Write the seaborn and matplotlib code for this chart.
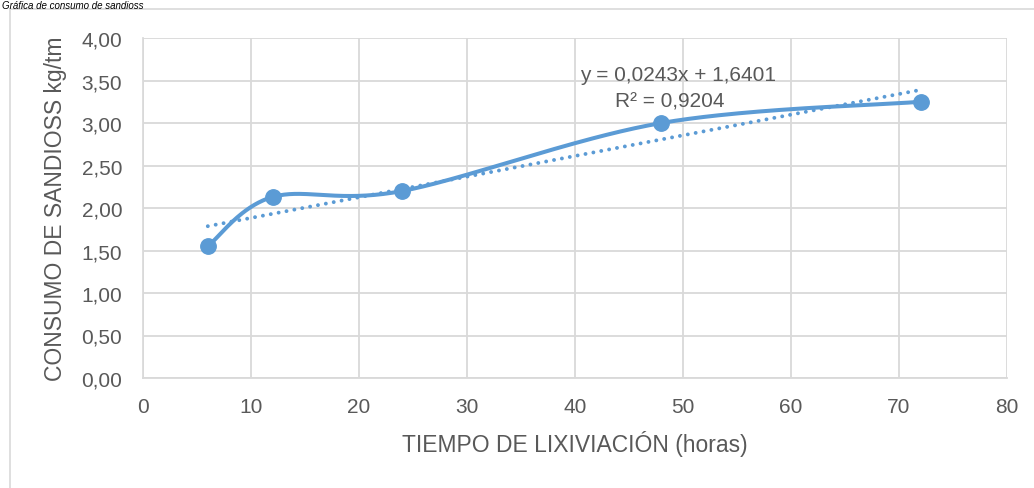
import numpy as np
import pandas as pd
import matplotlib
matplotlib.use("Agg")
import matplotlib.pyplot as plt
import seaborn as sns

# Data
horas = [6, 12, 24, 48, 72]
consumo = [1.55, 2.13, 2.20, 3.00, 3.25]
slope, intercept = 0.0243, 1.6401
eq_text = "y = 0,0243x + 1,6401"
r2_text = "R² = 0,9204"
x_ticks = [0, 10, 20, 30, 40, 50, 60, 70, 80]
y_ticks = [0.0, 0.5, 1.0, 1.5, 2.0, 2.5, 3.0, 3.5, 4.0]

sns.set_theme(style="white")
plt.rcParams['font.family'] = ['Liberation Sans', 'DejaVu Sans']

BLUE = "#5B9BD5"
GRAY = "#595959"
GRID = "#D9D9D9"

fig = plt.figure(figsize=(10.34, 4.89), dpi=100)
W, H = 1034, 489
ax = fig.add_axes([143 / W, 1 - 379 / H, (1007 - 143) / W, (379 - 39) / H])

df = pd.DataFrame({"horas": horas, "consumo": consumo})

# Excel-style smooth line (Bezier with Catmull-Rom control points)
def excel_smooth(xs, ys, n=60):
    P = np.column_stack([xs, ys]).astype(float)
    out = []
    for i in range(len(P) - 1):
        p0 = P[i - 1] if i > 0 else P[i]
        p1, p2 = P[i], P[i + 1]
        p3 = P[i + 2] if i + 2 < len(P) else P[i + 1]
        c1 = p1 + (p2 - p0) / 6.0
        c2 = p2 - (p3 - p1) / 6.0
        t = np.linspace(0, 1, n)[:, None]
        seg = ((1 - t) ** 3) * p1 + 3 * ((1 - t) ** 2) * t * c1 + 3 * (1 - t) * t ** 2 * c2 + t ** 3 * p2
        out.append(seg if i == 0 else seg[1:])
    return np.vstack(out)

curve = excel_smooth(horas, consumo)
sm = pd.DataFrame({"x": curve[:, 0], "y": curve[:, 1]})
sns.lineplot(data=sm, x="x", y="y", ax=ax, color=BLUE, lw=2.9, sort=False, estimator=None, zorder=3)
ax.lines[-1].set_solid_capstyle("round")

# Trendline
tx = np.array([min(horas), max(horas)], dtype=float)
tr = pd.DataFrame({"x": tx, "y": slope * tx + intercept})
sns.lineplot(data=tr, x="x", y="y", ax=ax, color=BLUE, lw=2.8, zorder=2)
ax.lines[-1].set_linestyle((0, (0.01, 2.05)))
ax.lines[-1].set_dash_capstyle("round")

sns.scatterplot(data=df, x="horas", y="consumo", ax=ax, color=BLUE, s=125, edgecolor=BLUE, zorder=4)

ax.set_xlim(0, 80)
ax.set_ylim(0, 4)
ax.set_xticks(x_ticks)
ax.set_yticks(y_ticks)
ax.set_xticklabels([str(v) for v in x_ticks])
ax.set_yticklabels([f"{v:.2f}".replace(".", ",") for v in y_ticks])
ax.tick_params(axis="both", labelsize=15, colors=GRAY, length=0)
ax.tick_params(axis="x", pad=14)
ax.tick_params(axis="y", pad=15)
ax.grid(True, color=GRID, lw=1.3)
for s in ax.spines.values():
    s.set_visible(False)
ax.spines['left'].set_visible(True)
ax.spines['left'].set_color(GRID)
ax.spines['bottom'].set_visible(True)
ax.spines['bottom'].set_color(GRID)
ax.spines['bottom'].set_linewidth(1.3)

ax.set_xlabel("TIEMPO DE LIXIVIACIÓN (horas)", fontsize=16.5, color=GRAY, labelpad=10)
ax.set_ylabel("CONSUMO DE SANDIOSS kg/tm", fontsize=16.5, color=GRAY, labelpad=10)

ax.text(678 / W * 0 + (678 - 143) / (1007 - 143) * 80, 4 * (379 - 75) / 340, eq_text, fontsize=15,
        color=GRAY, ha="center", va="center", zorder=5)
ax.text((670 - 143) / (1007 - 143) * 80, 4 * (379 - 102) / 340, r2_text, fontsize=15,
        color=GRAY, ha="center", va="center", zorder=5)

# Outer chart frame (left and top edges visible)
fig.add_artist(plt.Line2D([10 / W, 10 / W], [0, 1 - 10 / H], color=GRID, lw=1.2))
fig.add_artist(plt.Line2D([10 / W, 1], [1 - 10 / H, 1 - 10 / H], color=GRID, lw=1.2))

# Title at top
fig.text(2 / W, 1 - 1 / H, "Gráfica de consumo de sandioss", fontsize=7, style="italic",
         color="#000000", ha="left", va="top")

fig.savefig("out.png", dpi=100)
